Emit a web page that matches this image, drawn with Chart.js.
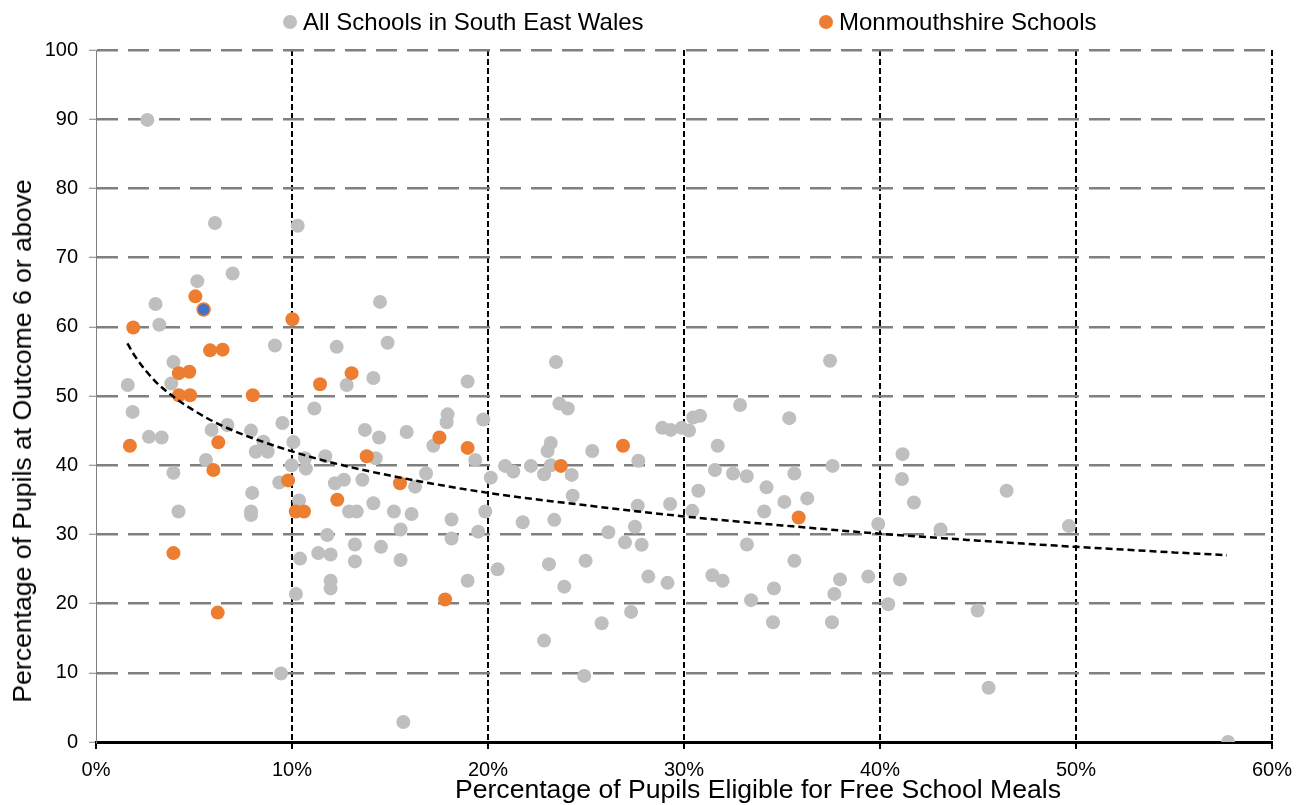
<!DOCTYPE html>
<html>
<head>
<meta charset="utf-8">
<title>FSM vs Outcome 6</title>
<script src="https://cdn.jsdelivr.net/npm/chart.js@4.4.1/dist/chart.umd.min.js"></script>
<style>
  body { margin: 0; background: #fff; }
  #wrap { position: relative; width: 1309px; height: 805px; font-family: "Liberation Sans", Arial, sans-serif; color: #000; }
  .dot { position: absolute; width: 14px; height: 14px; border-radius: 50%; }
  .txt { position: absolute; white-space: nowrap; }
  .leg { font-size: 24px; line-height: 24px; }
  .ttl { font-size: 26.6px; line-height: 26px; transform: translate(-50%, -50%); }
</style>
</head>
<body>
<div id="wrap">
  <canvas id="chartFsm" width="1309" height="805"></canvas>
  <div class="dot" style="left:283px; top:15px; background:#BFBFBF"></div>
  <div class="txt leg" style="left:303px; top:10px">All Schools in South East Wales</div>
  <div class="dot" style="left:819px; top:15px; background:#ED7D31"></div>
  <div class="txt leg" style="left:839px; top:10px">Monmouthshire Schools</div>
  <div class="txt ttl" style="left:758px; top:789px">Percentage of Pupils Eligible for Free School Meals</div>
  <div class="txt ttl" style="left:21.5px; top:441px; transform: translate(-50%, -50%) rotate(-90deg)">Percentage of Pupils at Outcome 6 or above</div>
</div>
<script>
// all schools in SE Wales: % FSM / % outcome 6+
const allX = [2.62, 6.07, 10.29, 6.97, 5.17, 3.04, 3.23, 14.49, 9.13, 12.28, 14.88, 3.95, 1.62, 3.84, 12.79, 14.15,
  1.87, 2.70, 3.35, 5.90, 6.70, 7.91, 8.54, 8.15, 8.76, 9.51, 10.07, 5.61, 3.95, 9.98, 10.71, 10.66, 11.70, 11.14,
  13.72, 14.44, 15.85, 14.27, 16.28, 9.35, 7.97, 7.91, 7.91, 4.21, 10.36, 12.19, 12.65, 13.59, 14.15, 12.91, 13.30,
  15.20, 16.10, 15.54, 11.80, 13.21, 14.54, 11.34, 11.97, 10.41, 13.21, 15.54, 11.97, 11.97, 10.20, 9.44, 15.68,
  23.47, 18.96, 23.64, 24.07, 17.94, 17.89, 19.76, 17.21, 19.35, 23.20, 23.04, 25.32, 27.67, 28.89, 29.32, 29.88,
  30.26, 30.47, 30.82, 31.72, 31.58, 30.73, 30.42, 20.87, 21.29, 20.14, 22.19, 23.21, 22.86, 24.27, 24.32, 16.84,
  18.14, 18.14, 19.50, 19.86, 21.77, 23.38, 18.96, 20.49, 23.11, 23.89, 24.98, 26.14, 26.99, 27.50, 27.84, 27.64,
  29.29, 28.18, 29.16, 31.45, 31.97, 27.30, 25.80, 22.86, 24.91, 37.45, 32.86, 35.37, 32.50, 33.20, 35.63, 37.58,
  34.21, 35.12, 36.29, 34.09, 39.91, 41.15, 41.12, 41.73, 43.09, 46.46, 33.21, 35.63, 34.59, 33.42, 37.96, 37.67,
  39.40, 41.02, 40.42, 34.54, 37.55, 44.98, 45.54, 49.64, 57.76]
const allY = [89.9, 75.0, 74.6, 67.7, 66.6, 63.3, 60.3, 63.6, 57.3, 57.1, 57.7, 54.9, 51.6, 51.8, 51.6, 52.6,
  47.7, 44.1, 44.0, 45.1, 45.8, 45.0, 43.4, 41.95, 41.95, 46.1, 43.35, 40.75, 38.9, 40.0, 39.5, 41.0, 41.3, 48.2,
  45.1, 44.0, 44.8, 41.0, 36.9, 37.5, 36.0, 33.3, 32.8, 33.3, 34.9, 37.4, 37.9, 37.9, 34.5, 33.3, 33.3,
  33.3, 32.95, 30.7, 29.9, 28.55, 28.2, 27.3, 27.1, 26.5, 26.1, 26.3, 23.3, 22.2, 21.4, 9.9, 2.9,
  54.9, 52.1, 48.9, 48.2, 47.35, 46.2, 46.6, 42.8, 40.75, 43.2, 42.05, 42.05, 40.65, 45.4, 45.1, 45.4,
  45.0, 46.9, 47.15, 42.8, 39.3, 36.3, 33.4, 39.9, 39.1, 38.2, 39.9, 40.0, 38.7, 38.6, 35.6, 38.8,
  32.15, 29.4, 30.4, 33.3, 31.75, 32.1, 23.3, 24.95, 25.7, 22.45, 26.2, 30.3, 28.85, 31.1, 28.5, 34.15,
  34.4, 23.9, 23.0, 24.1, 23.3, 18.8, 17.15, 14.65, 9.55, 55.1, 48.7, 46.8, 38.8, 38.4, 38.8, 39.9,
  36.8, 34.7, 35.2, 33.3, 31.5, 41.6, 38.0, 34.6, 30.7, 36.3, 28.55, 26.2, 22.2, 20.5, 23.5, 21.4,
  23.9, 23.5, 19.9, 17.3, 17.3, 19.0, 7.85, 31.2, 0]

// Monmouthshire schools
const monX = [5.07, 1.90, 10.02, 5.82, 6.46, 4.23, 4.76, 13.04, 11.43, 4.23, 4.80, 8.00, 1.73, 6.24, 5.99,
  13.81, 15.51, 9.80, 10.19, 10.61, 12.31, 3.95, 6.21, 17.52, 18.96, 17.81, 23.72, 26.89, 35.85]
const monY = [64.4, 59.9, 61.1, 56.6, 56.7, 53.3, 53.5, 53.3, 51.7, 50.1, 50.1, 50.1, 42.8, 43.3, 39.3,
  41.3, 37.4, 37.8, 33.3, 33.3, 35.0, 27.3, 18.7, 44.0, 42.5, 20.6, 39.9, 42.8, 32.45]

// highlighted school (blue)
const selX = [5.49]
const selY = [62.5]

// trendline
const trendX = [1.6, 2, 3, 4, 5, 6, 7, 8, 10, 12, 15, 20, 25, 30, 35, 40, 45, 50, 55, 57.7]
const trendY = [57.6, 55.7, 52.2, 49.8, 47.9, 46.3, 45.0, 43.9, 42.0, 40.4, 38.5, 36.0, 34.2, 32.6, 31.3, 30.1, 29.1, 28.2, 27.4, 27.0]

const xTicks = [0, 10, 20, 30, 40, 50, 60]
const yTicks = [0, 10, 20, 30, 40, 50, 60, 70, 80, 90, 100]

function pts(xs, ys) {
  return xs.map((x, i) => ({x: x, y: ys[i]}))
}

const fontFam = '"Liberation Sans", Arial, sans-serif'
const hideZero = (col) => (c) => (c.tick && c.tick.value === 0) ? 'rgba(0,0,0,0)' : col

const graphic = document.getElementById('chartFsm')
let chartFsm = new Chart(graphic, {
  type: 'scatter',
  data: {
    datasets: [
      {
        label: 'Trend',
        data: pts(trendX, trendY),
        showLine: true,
        borderColor: '#000',
        borderWidth: 2.5,
        borderDash: [7, 4],
        pointRadius: 0,
        cubicInterpolationMode: 'monotone',
        order: 0
      },
      {
        label: 'Selected',
        data: pts(selX, selY),
        backgroundColor: '#4472C4',
        borderColor: '#ED7D31',
        borderWidth: 1.5,
        pointRadius: 6.5,
        order: 1
      },
      {
        label: 'Monmouthshire Schools',
        data: pts(monX, monY),
        backgroundColor: '#ED7D31',
        borderWidth: 0,
        pointRadius: 7,
        order: 2
      },
      {
        label: 'All Schools in South East Wales',
        data: pts(allX, allY),
        backgroundColor: '#BFBFBF',
        borderWidth: 0,
        pointRadius: 7,
        order: 3
      }
    ]
  },
  options: {
    responsive: false,
    animation: false,
    events: [],
    layout: { padding: { top: 50, right: 37, left: 0, bottom: 0 } },
    plugins: { legend: { display: false }, tooltip: { enabled: false } },
    scales: {
      x: {
        type: 'linear',
        min: 0,
        max: 60,
        afterBuildTicks: (s) => { s.ticks = xTicks.map(v => ({value: v})) },
        afterFit: (s) => { s.height = 63 },
        ticks: {
          padding: 9,
          color: '#000',
          font: { family: fontFam, size: 20 },
          callback: (v) => v + '%'
        },
        grid: {
          color: hideZero('#000'),
          lineWidth: 2,
          tickColor: '#000',
          tickWidth: 2,
          tickLength: 7,
          tickBorderDash: []
        },
        border: { color: '#000', width: 3, dash: [6, 3] }
      },
      y: {
        type: 'linear',
        min: 0,
        max: 100,
        afterBuildTicks: (s) => { s.ticks = yTicks.map(v => ({value: v})) },
        afterFit: (s) => { s.width = 96 },
        ticks: {
          padding: 11,
          color: '#000',
          font: { family: fontFam, size: 20 }
        },
        grid: {
          color: hideZero('#808080'),
          lineWidth: 2.5,
          tickColor: '#808080',
          tickWidth: 1,
          tickLength: 7,
          tickBorderDash: []
        },
        border: { color: '#808080', width: 1, dash: [21, 10] }
      }
    }
  }
})
</script>
</body>
</html>
